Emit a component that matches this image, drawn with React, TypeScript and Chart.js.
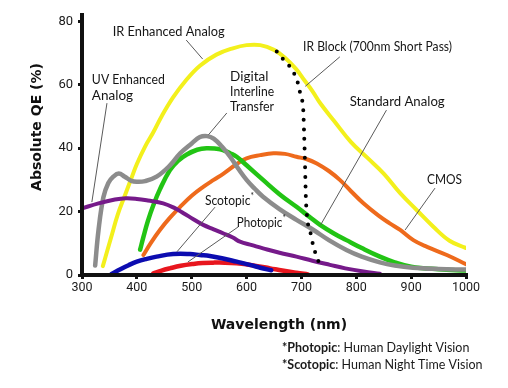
import React, { useEffect, useRef } from "react";
import { Chart, registerables } from "chart.js";

Chart.register(...registerables);

// ---- axis ticks ----
const xTickValues = [300, 400, 500, 600, 700, 800, 900, 1000];
const yTickValues = [0, 20, 40, 60, 80];

// ---- series (wavelength nm, absolute QE %) ----
const irEnhancedNm = [338, 345, 355, 365, 378, 390, 400, 415, 430, 445, 466, 490, 515, 545, 575, 600, 625, 650, 670, 690, 705, 720, 735, 760, 790, 820, 850, 880, 910, 940, 970, 1000];
const irEnhancedQE = [2.8, 7, 13, 19, 25, 30.5, 35, 40.5, 45, 50, 56, 61.5, 66, 69.5, 71.5, 72.5, 72.5, 71, 68.5, 65, 61.5, 58, 54, 48.5, 42, 37, 32, 25.8, 20.5, 15.3, 10.8, 8.5];

const interlineNm = [324, 330, 339, 348, 357, 367, 378, 390, 400, 415, 436, 460, 479, 500, 515, 528, 540, 555, 570, 585, 600, 615, 630, 660, 691, 722, 750, 782, 810, 843, 870, 903, 950, 1000];
const interlineQE = [3, 14, 24.5, 29, 31, 32, 31, 29.7, 29.4, 29.6, 31, 34.5, 38.4, 41.5, 43.5, 43.8, 43, 40.5, 37.3, 33.5, 30, 27.2, 24.7, 20.8, 17.4, 14.2, 11, 7.9, 5.8, 4, 3, 2.3, 1.9, 1.7];

const standardNm = [406, 412, 420, 430, 442, 460, 475, 491, 510, 527, 545, 557, 570, 582, 600, 630, 660, 691, 715, 734, 760, 782, 810, 843, 870, 900, 950, 1000];
const standardQE = [8, 12, 17, 22, 27, 33, 36, 38, 39.5, 40, 39.8, 39.4, 38.4, 37.3, 34.6, 30, 25.5, 21.5, 18.3, 15.8, 13, 11, 8.5, 5.8, 4, 2.6, 1.8, 1.4];

const cmosNm = [412, 425, 442, 460, 479, 500, 521, 540, 558, 582, 600, 625, 649, 670, 691, 710, 728, 750, 770, 790, 813, 840, 861, 880, 904, 930, 965, 1000];
const cmosQE = [6.3, 10, 14.2, 18, 21.5, 25, 27.8, 30, 32, 35, 36.8, 37.8, 38.4, 38.2, 37.3, 36.5, 35.2, 32.8, 30, 26.5, 22.6, 18.8, 16.3, 14.2, 11, 8.8, 6.3, 3.4];

const uvEnhancedNm = [300, 330, 360, 380, 400, 420, 448, 470, 485, 503, 521, 540, 558, 575, 588, 610, 630, 660, 691, 720, 752, 780, 813, 843];
const uvEnhancedQE = [21, 22.6, 23.8, 24.2, 24, 23.5, 22.6, 21, 19.5, 17.6, 15.8, 14.4, 13.1, 11.8, 10.5, 9.4, 8.4, 7, 5.8, 4.5, 3.2, 2.1, 1.1, 0.4];

const scotopicNm = [354, 370, 385, 400, 418, 436, 466, 497, 515, 533, 555, 582, 606, 625, 645];
const scotopicQE = [0.3, 1.8, 3.1, 4.2, 5.1, 5.8, 6.6, 6.6, 6.3, 6, 5.3, 4.2, 3.2, 2.3, 1.5];

const photopicNm = [430, 445, 460, 480, 503, 520, 539, 560, 582, 610, 643, 665, 691, 712];
const photopicQE = [0.5, 1.4, 2.1, 2.9, 3.5, 3.8, 3.9, 3.9, 3.7, 3.1, 2.1, 1.4, 0.7, 0.2];

const irBlockNm = [655, 662, 671, 683, 691, 696, 699, 703, 705, 706.5, 708, 711, 716, 722, 729, 735];
const irBlockQE = [70.5, 68.9, 67.3, 64.7, 61.8, 58.9, 56, 53, 44, 35.2, 24.7, 17.4, 13.7, 8.9, 5.3, 2.6];

// ---- annotation text ----
const curveLabels = [
  { lines: ["IR Enhanced Analog"], nm: 356, qe: [76.7], w: 112 },
  { lines: ["UV Enhanced", "Analog"], nm: 318, qe: [61.5, 56.5], w: 73 },
  { lines: ["Digital", "Interline", "Transfer"], nm: 570, qe: [62.5, 57.8, 53.1], w: 44 },
  { lines: ["IR Block (700nm Short Pass)"], nm: 703, qe: [72.0], w: 149 },
  { lines: ["Standard Analog"], nm: 788, qe: [54.7], w: 95 },
  { lines: ["CMOS"], nm: 929, qe: [30.0], w: 35 },
  { lines: ["Scotopic"], nm: 524, qe: [23.3], w: 49, star: true },
  { lines: ["Photopic"], nm: 582, qe: [16.4], w: 49, star: true },
];

const leaderLines = [
  { from: [490, 74.1], to: [520, 68.1] },
  { from: [345.5, 54.2], to: [318, 23.0] },
  { from: [564, 51.1], to: [530.5, 44.2] },
  { from: [770, 68.8], to: [707, 59.5] },
  { from: [855, 52.0], to: [735, 15.8] },
  { from: [943.5, 27.4], to: [889, 14.2] },
  { from: [542.5, 21.4], to: [473, 7.3] },
  { from: [585, 15.2], to: [493, 4.1] },
];

const xTitle = "Wavelength (nm)";
const yTitle = "Absolute QE (%)";
const footnotes = [
  { bold: "*Photopic", rest: ": Human Daylight Vision" },
  { bold: "*Scotopic", rest: ": Human Night Time Vision" },
];

const toPoints = (xs: number[], ys: number[]) => xs.map((x, i) => ({ x, y: ys[i] }));

const TEXT_FONT = "Lato, 'DejaVu Sans', sans-serif";

function drawParts(ctx: CanvasRenderingContext2D, parts: { text: string; font: string; dy?: number }[], x: number, y: number, maxW: number) {
  let total = 0;
  parts.forEach((p) => {
    ctx.font = p.font;
    total += ctx.measureText(p.text).width;
  });
  const s = Math.min(1, maxW / total);
  ctx.save();
  ctx.translate(x, y);
  ctx.scale(s, 1);
  let cx = 0;
  parts.forEach((p) => {
    ctx.font = p.font;
    ctx.fillText(p.text, cx, p.dy || 0);
    cx += ctx.measureText(p.text).width;
  });
  ctx.restore();
}

const annotationPlugin = {
  id: "qeAnnotations",
  afterDraw(chart: any) {
    const ctx: CanvasRenderingContext2D = chart.ctx;
    const xs = chart.scales.x;
    const ys = chart.scales.y;
    const px = (v: number) => xs.getPixelForValue(v);
    const py = (v: number) => ys.getPixelForValue(v);
    const area = chart.chartArea;
    ctx.save();
    ctx.strokeStyle = "#5a5a5a";
    ctx.lineWidth = 1;
    leaderLines.forEach((l) => {
      ctx.beginPath();
      ctx.moveTo(px(l.from[0]), py(l.from[1]));
      ctx.lineTo(px(l.to[0]), py(l.to[1]));
      ctx.stroke();
    });
    ctx.fillStyle = "#151515";
    ctx.textBaseline = "middle";
    ctx.textAlign = "left";
    const labelFont = `13.5px ${TEXT_FONT}`;
    curveLabels.forEach((lb) => {
      lb.lines.forEach((t, i) => {
        const parts: { text: string; font: string; dy?: number }[] = [{ text: t, font: labelFont }];
        if (lb.star) parts.push({ text: "*", font: `9px ${TEXT_FONT}`, dy: -5 });
        drawParts(ctx, parts, px(lb.nm), py(lb.qe[i]), lb.w);
      });
    });
    // axis titles
    ctx.fillStyle = "#111";
    ctx.textAlign = "left";
    const titleFont = `bold 14px 'DejaVu Sans', sans-serif`;
    ctx.font = titleFont;
    const xw = Math.min(ctx.measureText(xTitle).width, 140);
    drawParts(ctx, [{ text: xTitle, font: titleFont }], (area.left + area.right) / 2 + 5 - xw / 2, area.bottom + 50, 140);
    ctx.save();
    ctx.translate(37, 127);
    ctx.rotate(-Math.PI / 2);
    ctx.font = titleFont;
    const yw = Math.min(ctx.measureText(yTitle).width, 141);
    drawParts(ctx, [{ text: yTitle, font: titleFont }], -yw / 2, 0, 141);
    ctx.restore();
    // footnotes
    ctx.fillStyle = "#1a1a1a";
    const fw = [190, 202];
    footnotes.forEach((f, i) => {
      drawParts(
        ctx,
        [
          { text: f.bold, font: `bold 12.5px ${TEXT_FONT}` },
          { text: f.rest, font: `12.5px ${TEXT_FONT}` },
        ],
        282,
        348 + i * 17,
        fw[i]
      );
    });
    ctx.restore();
  },
};

export default function App() {
  const ref = useRef<HTMLCanvasElement>(null);
  useEffect(() => {
    const line = (data: { x: number; y: number }[], color: string, width: number, order: number, extra: any = {}) => ({
      data,
      borderColor: color,
      backgroundColor: color,
      borderWidth: width,
      pointRadius: 0,
      fill: false,
      tension: 0.4,
      borderCapStyle: "round",
      borderJoinStyle: "round",
      order,
      ...extra,
    });
    const chart = new Chart(ref.current as HTMLCanvasElement, {
      type: "line",
      data: {
        datasets: [
          line(toPoints(irBlockNm, irBlockQE), "#000000", 4, 0, {
            borderDash: [0, 9.5],
            cubicInterpolationMode: "monotone",
            label: "IR Block (700nm Short Pass)",
          }),
          line(toPoints(uvEnhancedNm, uvEnhancedQE), "#761a8a", 4, 1, { label: "UV Enhanced Analog" }),
          line(toPoints(scotopicNm, scotopicQE), "#0c0cb0", 4.5, 2, { label: "Scotopic" }),
          line(toPoints(photopicNm, photopicQE), "#e8161e", 4.5, 3, { label: "Photopic" }),
          line(toPoints(interlineNm, interlineQE), "#8c8c8c", 4.5, 4, { label: "Digital Interline Transfer" }),
          line(toPoints(standardNm, standardQE), "#22c414", 4.5, 5, { label: "Standard Analog" }),
          line(toPoints(cmosNm, cmosQE), "#ee6a1c", 4, 6, { label: "CMOS" }),
          line(toPoints(irEnhancedNm, irEnhancedQE), "#f3f01c", 4, 7, { label: "IR Enhanced Analog" }),
        ] as any,
      },
      options: {
        responsive: false,
        devicePixelRatio: 1,
        animation: false,
        events: [],
        layout: { padding: { top: 15, right: 42, left: 0, bottom: 0 } },
        plugins: { legend: { display: false }, tooltip: { enabled: false }, title: { display: false } },
        scales: {
          x: {
            type: "linear",
            min: 300,
            max: 1000,
            afterBuildTicks: (s: any) => {
              s.ticks = xTickValues.map((v) => ({ value: v }));
            },
            afterFit: (s: any) => {
              s.height = 113;
            },
            ticks: {
              color: "#1a1a1a",
              font: { family: "Roboto, sans-serif", size: 12.5 },
              padding: 1,
              maxRotation: 0,
              autoSkip: false,
              callback: (v: any) => String(v),
            },
            grid: { display: true, drawOnChartArea: false, drawTicks: true, tickLength: 4, color: "#111", lineWidth: 3 },
            border: { display: true, color: "#111", width: 4, z: 1 },
          },
          y: {
            type: "linear",
            min: 0,
            max: 82,
            afterBuildTicks: (s: any) => {
              s.ticks = yTickValues.map((v) => ({ value: v }));
            },
            afterFit: (s: any) => {
              s.width = 82;
            },
            ticks: {
              color: "#1a1a1a",
              font: { family: "Roboto, sans-serif", size: 13 },
              padding: 5,
              autoSkip: false,
              callback: (v: any) => String(v),
            },
            grid: { display: true, drawOnChartArea: false, drawTicks: true, tickLength: 4, color: "#111", lineWidth: 3 },
            border: { display: true, color: "#111", width: 4, z: 1 },
          },
        },
      } as any,
      plugins: [annotationPlugin],
    });
    return () => chart.destroy();
  }, []);
  return (
    <div style={{ position: "fixed", left: 0, top: 0, width: 508, height: 388, background: "#fff" }}>
      <canvas ref={ref} width={508} height={388} style={{ display: "block", width: 508, height: 388 }} />
    </div>
  );
}
